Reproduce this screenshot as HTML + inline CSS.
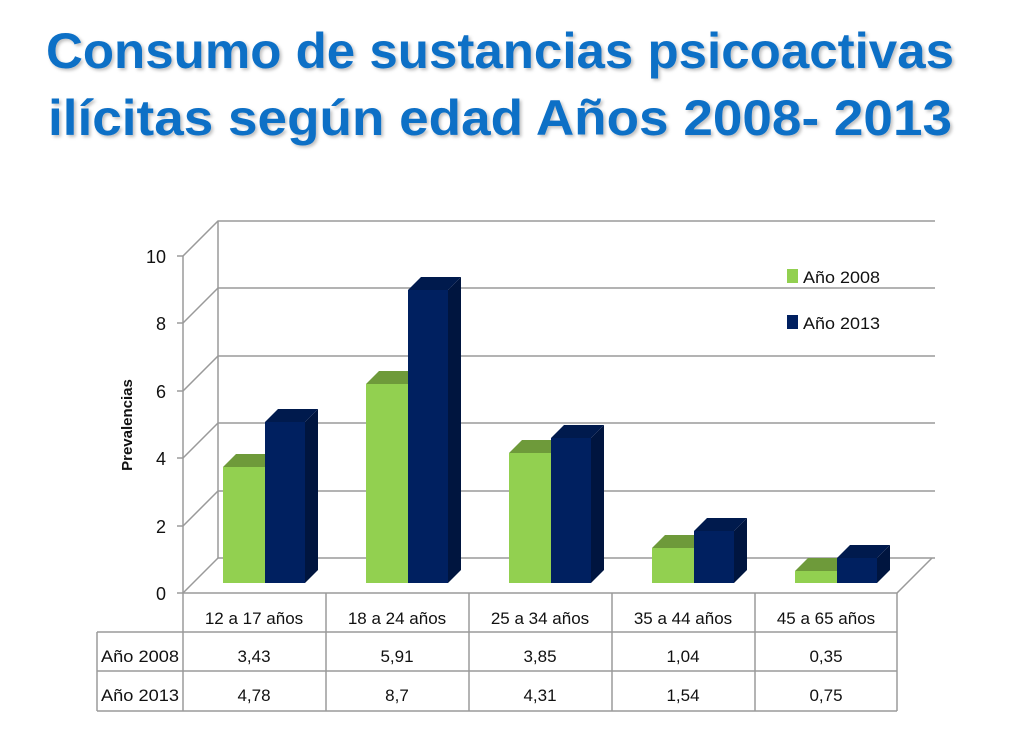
<!DOCTYPE html>
<html><head><meta charset="utf-8"><style>
body{margin:0;background:#fff;width:1024px;height:754px;overflow:hidden}
svg{display:block}
text{font-family:"Liberation Sans",sans-serif}
</style></head><body>
<svg width="1024" height="754" viewBox="0 0 1024 754">
<defs><filter id="sh"><feDropShadow dx="2" dy="2" stdDeviation="1.5" flood-color="#000" flood-opacity="0.25"/></filter></defs>
<g font-weight="bold" fill="#0E6FC6" font-size="50" filter="url(#sh)">
<text x="46" y="68" textLength="908" lengthAdjust="spacingAndGlyphs">Consumo de sustancias psicoactivas</text>
<text x="48" y="135" textLength="904" lengthAdjust="spacingAndGlyphs">ilícitas según edad Años 2008- 2013</text>
</g>
<g stroke="#9a9a9a" stroke-width="1.5" fill="none">
<line x1="183" y1="593" x2="218" y2="558"/><line x1="218" y1="558" x2="218" y2="221"/>
<line x1="183" y1="593" x2="183" y2="256"/>
<polyline points="183,593 897,593 932,558"/>
<polyline points="183,256 218,221 935,221"/>
<polyline points="183,323 218,288 935,288"/>
<polyline points="183,391 218,356 935,356"/>
<polyline points="183,458 218,423 935,423"/>
<polyline points="183,526 218,491 935,491"/>
<polyline points="218,558 935,558"/>
<line x1="177" y1="256" x2="183" y2="256"/><line x1="177" y1="323" x2="183" y2="323"/><line x1="177" y1="391" x2="183" y2="391"/><line x1="177" y1="458" x2="183" y2="458"/><line x1="177" y1="526" x2="183" y2="526"/><line x1="177" y1="593" x2="183" y2="593"/>
</g>
<g font-size="18" fill="#111" text-anchor="end">
<text x="166" y="263">10</text><text x="166" y="330">8</text><text x="166" y="398">6</text><text x="166" y="465">4</text><text x="166" y="533">2</text><text x="166" y="600">0</text>
</g>
<text transform="translate(132,425) rotate(-90)" text-anchor="middle" font-size="15" font-weight="bold" fill="#111">Prevalencias</text>
<g id="bars"></g>
<rect x="787" y="269" width="11" height="14" fill="#92D050"/>
<rect x="787" y="315" width="11" height="14" fill="#002060"/>
<g font-size="17" fill="#111"><text x="803" y="283" textLength="77" lengthAdjust="spacingAndGlyphs">Año 2008</text><text x="803" y="329" textLength="77" lengthAdjust="spacingAndGlyphs">Año 2013</text></g>
<g stroke="#9a9a9a" stroke-width="1.5" fill="none">
<line x1="183" y1="593" x2="183" y2="711"/>
<line x1="326" y1="593" x2="326" y2="711"/><line x1="469" y1="593" x2="469" y2="711"/><line x1="612" y1="593" x2="612" y2="711"/><line x1="755" y1="593" x2="755" y2="711"/><line x1="897" y1="593" x2="897" y2="711"/>
<line x1="97" y1="632" x2="897" y2="632"/><line x1="97" y1="671" x2="897" y2="671"/><line x1="97" y1="711" x2="897" y2="711"/>
<line x1="97" y1="632" x2="97" y2="711"/>
</g>
<g font-size="17" fill="#111" text-anchor="middle">
<text x="254" y="624">12 a 17 años</text><text x="397" y="624">18 a 24 años</text><text x="540" y="624">25 a 34 años</text><text x="683" y="624">35 a 44 años</text><text x="826" y="624">45 a 65 años</text>
<text x="254" y="662">3,43</text><text x="397" y="662">5,91</text><text x="540" y="662">3,85</text><text x="683" y="662">1,04</text><text x="826" y="662">0,35</text>
<text x="254" y="701">4,78</text><text x="397" y="701">8,7</text><text x="540" y="701">4,31</text><text x="683" y="701">1,54</text><text x="826" y="701">0,75</text>
</g>
<g font-size="17" fill="#111"><text x="101" y="662" textLength="78" lengthAdjust="spacingAndGlyphs">Año 2008</text><text x="101" y="701" textLength="78" lengthAdjust="spacingAndGlyphs">Año 2013</text></g>
<!-- bars -->
<g>
<!-- group helper drawn manually: green x0, navy x0+42 -->
<polygon points="265,467 278,454 278,570 265,583" fill="#6E9A3A"/><polygon points="223,467 236,454 278,454 265,467" fill="#6E9A3A"/><rect x="223" y="467" width="42" height="116" fill="#92D050"/>
<polygon points="305,422 318,409 318,570 305,583" fill="#00153F"/><polygon points="265,422 278,409 318,409 305,422" fill="#001A4D"/><rect x="265" y="422" width="40" height="161" fill="#002060"/>

<polygon points="408,384 421,371 421,570 408,583" fill="#6E9A3A"/><polygon points="366,384 379,371 421,371 408,384" fill="#6E9A3A"/><rect x="366" y="384" width="42" height="199" fill="#92D050"/>
<polygon points="448,290 461,277 461,570 448,583" fill="#00153F"/><polygon points="408,290 421,277 461,277 448,290" fill="#001A4D"/><rect x="408" y="290" width="40" height="293" fill="#002060"/>

<polygon points="551,453 564,440 564,570 551,583" fill="#6E9A3A"/><polygon points="509,453 522,440 564,440 551,453" fill="#6E9A3A"/><rect x="509" y="453" width="42" height="130" fill="#92D050"/>
<polygon points="591,438 604,425 604,570 591,583" fill="#00153F"/><polygon points="551,438 564,425 604,425 591,438" fill="#001A4D"/><rect x="551" y="438" width="40" height="145" fill="#002060"/>

<polygon points="694,548 707,535 707,570 694,583" fill="#6E9A3A"/><polygon points="652,548 665,535 707,535 694,548" fill="#6E9A3A"/><rect x="652" y="548" width="42" height="35" fill="#92D050"/>
<polygon points="734,531 747,518 747,570 734,583" fill="#00153F"/><polygon points="694,531 707,518 747,518 734,531" fill="#001A4D"/><rect x="694" y="531" width="40" height="52" fill="#002060"/>

<polygon points="837,571 850,558 850,570 837,583" fill="#6E9A3A"/><polygon points="795,571 808,558 850,558 837,571" fill="#6E9A3A"/><rect x="795" y="571" width="42" height="12" fill="#92D050"/>
<polygon points="877,558 890,545 890,570 877,583" fill="#00153F"/><polygon points="837,558 850,545 890,545 877,558" fill="#001A4D"/><rect x="837" y="558" width="40" height="25" fill="#002060"/>
</g>
</svg>
</body></html>
